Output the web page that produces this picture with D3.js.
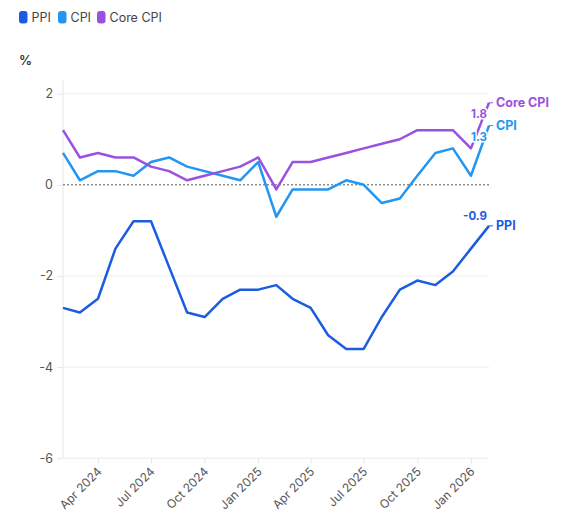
<!DOCTYPE html>
<html>
<head>
<meta charset="utf-8">
<script src="https://cdn.jsdelivr.net/npm/d3@7"></script>
<style>
  body { margin: 0; background: #fff; }
  text { font-family: Inter, "Noto Sans", sans-serif; }
</style>
</head>
<body>
<div id="chart"></div>
<script>
// Monthly readings, Feb 2024 .. Feb 2026 (YoY %)
const months = d3.timeMonths(new Date(2024, 1, 1), new Date(2026, 2, 1));
const ppiValues = [-2.7, -2.8, -2.5, -1.4, -0.8, -0.8, -1.8, -2.8, -2.9, -2.5, -2.3, -2.3,
                   -2.2, -2.5, -2.7, -3.3, -3.6, -3.6, -2.9, -2.3, -2.1, -2.2, -1.9, -1.4, -0.9];
const cpiValues = [0.7, 0.1, 0.3, 0.3, 0.2, 0.5, 0.6, 0.4, 0.3, 0.2, 0.1, 0.5,
                   -0.7, -0.1, -0.1, -0.1, 0.1, 0.0, -0.4, -0.3, 0.2, 0.7, 0.8, 0.2, 1.3];
const coreValues = [1.2, 0.6, 0.7, 0.6, 0.6, 0.4, 0.3, 0.1, 0.2, 0.3, 0.4, 0.6,
                    -0.1, 0.5, 0.5, 0.6, 0.7, 0.8, 0.9, 1.0, 1.2, 1.2, 1.2, 0.8, 1.8];
const seriesNames = ["PPI", "CPI", "Core CPI"];
const seriesColors = ["#1b5ce0", "#2196f3", "#9b51e0"];
const yTicks = [2, 0, -2, -4, -6];
const xTicks = [new Date(2024, 3, 1), new Date(2024, 6, 1), new Date(2024, 9, 1), new Date(2025, 0, 1),
                new Date(2025, 3, 1), new Date(2025, 6, 1), new Date(2025, 9, 1), new Date(2026, 0, 1)];

const series = [ppiValues, cpiValues, coreValues].map((vals, i) => ({
    name: seriesNames[i],
    color: seriesColors[i],
    values: vals.map((v, j) => ({ date: months[j], value: v }))
}));

const width = 568, height = 522;
const margin = { top: 80, right: 79, bottom: 64, left: 63 };

// plain hyphen minus, like the original
const fmt1 = d => d.toFixed(1);

const svg = d3.select("#chart").append("svg")
    .attr("width", width)
    .attr("height", height);

const x = d3.scaleTime()
    .domain([months[0], months[months.length - 1]])
    .range([margin.left, width - margin.right]);

const y = d3.scaleLinear()
    .domain([-6, 2.3])
    .range([height - margin.bottom + 0.3, margin.top]);

// Gridlines + y axis
const yAxis = svg.append("g")
    .attr("transform", `translate(${margin.left},0)`)
    .call(d3.axisLeft(y).tickValues(yTicks).tickSize(6).tickPadding(4).tickFormat(d => String(d)));
yAxis.select(".domain").remove();
yAxis.selectAll(".tick line").attr("stroke", "#e6e6e6");
yAxis.selectAll(".tick text").attr("fill", "#555").style("font-size", "12.5px");

svg.append("g")
    .selectAll("line")
    .data(yTicks.filter(d => d !== 0))
    .join("line")
    .attr("x1", margin.left)
    .attr("x2", width - margin.right)
    .attr("y1", d => y(d))
    .attr("y2", d => y(d))
    .attr("stroke", "#ececec");

// Left axis line
svg.append("line")
    .attr("x1", margin.left).attr("x2", margin.left)
    .attr("y1", margin.top).attr("y2", y(-6))
    .attr("stroke", "#e6e6e6");

// x axis
const xAxis = svg.append("g")
    .attr("transform", `translate(0,${y(-6)})`)
    .call(d3.axisBottom(x).tickValues(xTicks).tickSize(5).tickFormat(d3.timeFormat("%b %Y")));
xAxis.select(".domain").remove();
xAxis.selectAll(".tick line").attr("stroke", "#e6e6e6");
xAxis.selectAll(".tick text")
    .attr("fill", "#555")
    .style("font-size", "12px")
    .attr("text-anchor", "end")
    .attr("y", 0)
    .attr("dy", 0)
    .attr("transform", "translate(4,14) rotate(-45)");

// Zero reference line
svg.append("line")
    .attr("x1", margin.left)
    .attr("x2", width - margin.right)
    .attr("y1", y(0))
    .attr("y2", y(0))
    .attr("stroke", "#555")
    .attr("stroke-dasharray", "2,2");

// Lines
const line = d3.line()
    .x(d => x(d.date))
    .y(d => y(d.value));

svg.append("g")
    .selectAll("path")
    .data(series)
    .join("path")
    .attr("fill", "none")
    .attr("stroke", d => d.color)
    .attr("stroke-width", 2.5)
    .attr("stroke-linejoin", "round")
    .attr("d", d => line(d.values));

// End labels
const valueOffset = { "PPI": -10, "CPI": 11, "Core CPI": 11 };
const ends = svg.append("g")
    .selectAll("g")
    .data(series)
    .join("g")
    .attr("transform", d => {
        const last = d.values[d.values.length - 1];
        return `translate(${x(last.date)},${y(last.value)})`;
    });

ends.append("line")
    .attr("x1", 0).attr("x2", 4)
    .attr("y1", 0).attr("y2", 0)
    .attr("stroke", d => d.color)
    .attr("stroke-width", 1);

ends.append("text")
    .attr("x", 7)
    .attr("dy", "0.35em")
    .attr("fill", d => d.color)
    .style("font-size", "12.5px")
    .style("font-weight", "bold")
    .text(d => d.name);

ends.append("text")
    .attr("x", -2)
    .attr("y", d => valueOffset[d.name])
    .attr("dy", "0.35em")
    .attr("text-anchor", "end")
    .attr("fill", d => d.color)
    .attr("stroke", "#fff")
    .attr("stroke-width", 3)
    .attr("paint-order", "stroke")
    .style("font-size", "11.5px")
    .style("font-weight", "bold")
    .text(d => fmt1(d.values[d.values.length - 1].value));

// Unit label
svg.append("text")
    .attr("x", 19)
    .attr("y", 65)
    .attr("fill", "#333")
    .style("font-size", "13px")
    .style("font-weight", "600")
    .text("%");

// Legend
const legendX = [19, 58, 97];
const legend = svg.append("g")
    .selectAll("g")
    .data(series)
    .join("g")
    .attr("transform", (d, i) => `translate(${legendX[i]},11)`);

legend.append("rect")
    .attr("width", 8.5)
    .attr("height", 12.5)
    .attr("rx", 3)
    .attr("fill", d => d.color);

legend.append("text")
    .attr("x", 12.5)
    .attr("y", 11)
    .attr("fill", "#444")
    .style("font-size", "12.5px")
    .text(d => d.name);
</script>
</body>
</html>
